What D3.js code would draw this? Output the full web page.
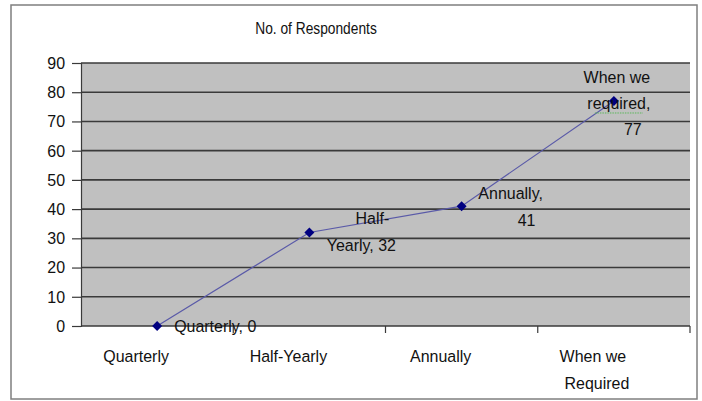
<!DOCTYPE html>
<html><head><meta charset="utf-8">
<script src="https://cdn.jsdelivr.net/npm/d3@7"></script>
<style>
html,body{margin:0;padding:0;background:#fff;}
svg{display:block;font-family:"Liberation Sans",Arial,sans-serif;}
</style></head>
<body>
<svg id="chart" width="702" height="401"></svg>
<script>
const title = "No. of Respondents";
const categories = ["Quarterly", "Half-Yearly", "Annually", "When we Required"];
const categoryLines = [["Quarterly"], ["Half-Yearly"], ["Annually"], ["When we", "Required"]];
const values = [0, 32, 41, 77];
const dataLabelLines = [["Quarterly, 0"], ["Half-", "Yearly, 32"], ["Annually,", "41"], ["When we", "required,", "77"]];
const yTicks = [0, 10, 20, 30, 40, 50, 60, 70, 80, 90];

// label layout (style, not data): offsets of each label line from its point
const labelLayout = [
  [{dx: 17, dy: 0, anchor: "start"}],
  [{dx: 63, dy: -14, anchor: "middle"}, {dx: 52, dy: 13, anchor: "middle"}],
  [{dx: 49, dy: -13, anchor: "middle"}, {dx: 65, dy: 14, anchor: "middle"}],
  [{dx: 3, dy: -24, anchor: "middle"}, {dx: 5, dy: 2, anchor: "middle"}, {dx: 19, dy: 28, anchor: "middle"}]
];

const FS = 17, SX = 0.94;
const svg = d3.select("#chart");
const L = 81, R = 690, T = 63, B = 326;

function txt(g, s, px, py, anchor, fs, sx) {
  return g.append("text")
    .attr("transform", `translate(${px},${py}) scale(${sx},1)`)
    .attr("text-anchor", anchor).attr("font-size", fs).attr("fill", "#111").text(s);
}

// outer border
svg.append("rect").attr("x", 11).attr("y", 5).attr("width", 686).attr("height", 394)
  .attr("fill", "#fff").attr("stroke", "#7f7f7f").attr("stroke-width", 1.5);

const x = d3.scaleBand().domain(categories).range([L, R]).paddingInner(0).paddingOuter(0);
const y = d3.scaleLinear().domain([0, 90]).range([B, T]);

// plot area
svg.append("rect").attr("x", L).attr("y", T).attr("width", R - L).attr("height", B - T)
  .attr("fill", "#c0c0c0");

// gridlines
svg.append("g").selectAll("line").data(yTicks.filter(d => d > 0)).join("line")
  .attr("x1", L).attr("x2", R).attr("y1", d => y(d)).attr("y2", d => y(d))
  .attr("stroke", "#3a3a3a").attr("stroke-width", 1.6);

// y axis
const yAxis = svg.append("g").attr("transform", `translate(${L},0)`)
  .call(d3.axisLeft(y).tickValues(yTicks).tickSize(9).tickPadding(8).tickFormat(d3.format("d")));
yAxis.select(".domain").attr("stroke", "#3a3a3a").attr("stroke-width", 1.2);
yAxis.selectAll(".tick line").attr("stroke", "#3a3a3a").attr("stroke-width", 1.2);
yAxis.selectAll(".tick text").attr("font-size", FS).attr("fill", "#111")
  .attr("font-family", "'Liberation Sans', Arial, sans-serif")
  .attr("transform", `scale(${SX},1)`);

// x axis line and ticks at band boundaries
svg.append("line").attr("x1", L).attr("x2", R).attr("y1", B).attr("y2", B)
  .attr("stroke", "#3a3a3a").attr("stroke-width", 1.6);
const bounds = categories.map(c => x(c) + x.bandwidth());
svg.append("g").selectAll("line").data(bounds).join("line")
  .attr("x1", d => d).attr("x2", d => d).attr("y1", B).attr("y2", B + 7)
  .attr("stroke", "#3a3a3a").attr("stroke-width", 1.2);

// x labels
const xl = svg.append("g");
categoryLines.forEach((lines, i) => {
  const cx = x(categories[i]) + x.bandwidth() / 2 - 21;
  lines.forEach((ln, j) => {
    txt(xl, ln, cx + (j === 1 ? 4 : 0), 362 + j * 27, "middle", FS, SX);
  });
});

// title
txt(svg, title, 316, 34, "middle", 16, 0.86);

// line
const cxp = (d, i) => x(categories[i]) + x.bandwidth() / 2;
const line = d3.line().x((d, i) => cxp(d, i)).y(d => y(d));
svg.append("path").datum(values).attr("d", line)
  .attr("fill", "none").attr("stroke", "#5a5aa8").attr("stroke-width", 1.2);

// markers
svg.append("g").selectAll("path").data(values).join("path")
  .attr("transform", (d, i) => `translate(${cxp(d, i)},${y(d)})`)
  .attr("d", "M0,-5L5,0L0,5L-5,0Z").attr("fill", "#000080");

// data labels
const dl = svg.append("g");
dataLabelLines.forEach((lines, i) => {
  const px = cxp(values[i], i), py = y(values[i]);
  lines.forEach((ln, j) => {
    const lay = labelLayout[i][j];
    txt(dl, ln, px + lay.dx, py + lay.dy, lay.anchor, FS, SX).attr("dy", "0.35em");
  });
});

// spell-check squiggle under "required,"
{
  const px = cxp(values[3], 3) + 5, py = y(values[3]) + 12;
  svg.append("line").attr("x1", px - 24).attr("x2", px + 24).attr("y1", py).attr("y2", py)
    .attr("stroke", "#5cb85c").attr("stroke-width", 1).attr("stroke-dasharray", "1.5,1");
}
</script>
</body></html>
